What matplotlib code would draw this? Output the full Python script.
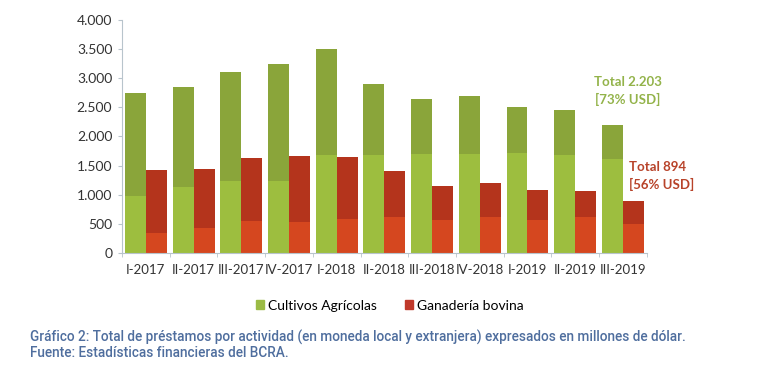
import matplotlib.pyplot as plt
import numpy as np
from matplotlib.patches import Patch

plt.rcParams['font.family'] = ['Lato', 'DejaVu Sans']

# trimestres
categorias = ["I-2017", "II-2017", "III-2017", "IV-2017", "I-2018", "II-2018",
              "III-2018", "IV-2018", "I-2019", "II-2019", "III-2019"]

# Cultivos agricolas: total y parte en USD (millones de dolar)
agri_total = [2752, 2845, 3113, 3240, 3503, 2907, 2639, 2701, 2512, 2450, 2203]
agri_usd = [979, 1128, 1231, 1231, 1677, 1680, 1694, 1694, 1717, 1688, 1608]

# Ganaderia bovina: total y parte en USD
gan_total = [1425, 1437, 1631, 1671, 1654, 1413, 1156, 1202, 1076, 1065, 894]
gan_usd = [349, 429, 555, 532, 584, 618, 572, 613, 572, 613, 500]

yticks = [0, 500, 1000, 1500, 2000, 2500, 3000, 3500, 4000]

verde_claro = "#9dbe3f"
verde_osc = "#8aa53a"
rojo_claro = "#d5471f"
rojo_osc = "#b4341c"

fig = plt.figure(figsize=(7.6, 3.66), dpi=100)
ax = fig.add_axes([0.1605, 0.3087, 0.6905, 0.6367])

x = np.arange(len(categorias))
w = 0.44
agri_resto = np.array(agri_total) - np.array(agri_usd)
gan_resto = np.array(gan_total) - np.array(gan_usd)

ax.bar(x - w / 2, agri_usd, w, color=verde_claro, linewidth=0)
ax.bar(x - w / 2, agri_resto, w, bottom=agri_usd, color=verde_osc, linewidth=0)
ax.bar(x + w / 2, gan_usd, w, color=rojo_claro, linewidth=0)
ax.bar(x + w / 2, gan_resto, w, bottom=gan_usd, color=rojo_osc, linewidth=0)

ax.set_xlim(-0.5, len(categorias) - 0.5)
ax.set_ylim(0, 4000)
ax.set_yticks(yticks)
ax.set_yticklabels([f"{v:,}".replace(",", ".") for v in yticks])
ax.set_xticks(x)
ax.set_xticklabels(categorias)
ax.set_xticks(np.arange(-0.5, len(categorias)), minor=True)

for s in ["top", "right"]:
    ax.spines[s].set_visible(False)
for s in ["left", "bottom"]:
    ax.spines[s].set_color("#b8c4cc")
    ax.spines[s].set_linewidth(0.8)
ax.tick_params(axis="x", which="major", length=0, pad=8, labelsize=9.5, colors="#333333")
ax.tick_params(axis="x", which="minor", length=3, color="#b8c4cc")
ax.tick_params(axis="y", length=3, color="#b8c4cc", labelsize=10, colors="#333333", pad=4)

ax.text(10.1, 2780, "Total 2.203\n[73% USD]", color="#93b34a", fontsize=9.5,
        fontweight="bold", ha="center", va="center", linespacing=1.45)
ax.text(10.13, 1322, "Total 894\n[56% USD]", color="#b8432a", fontsize=9.5,
        fontweight="bold", ha="left", va="center", linespacing=1.45)

handles = [Patch(color="#9bbb45"), Patch(color="#c0392b")]
fig.legend(handles, ["Cultivos Agrícolas", "Ganadería bovina"], loc="center",
           bbox_to_anchor=(0.513, 0.165), ncol=2, frameon=False, fontsize=10,
           handlelength=0.6, handleheight=0.6, handletextpad=0.3, columnspacing=2.0)

fig.text(0.04, 0.058, "Gráfico 2: Total de préstamos por actividad (en moneda local y extranjera) expresados en millones de dólar.\nFuente: Estadísticas financieras del BCRA.",
         color="#4f6e9e", fontsize=9.8, family=["Roboto", "DejaVu Sans"],
         fontweight="medium", ha="left", va="center", linespacing=1.15)

fig.savefig("out.png", dpi=100)
